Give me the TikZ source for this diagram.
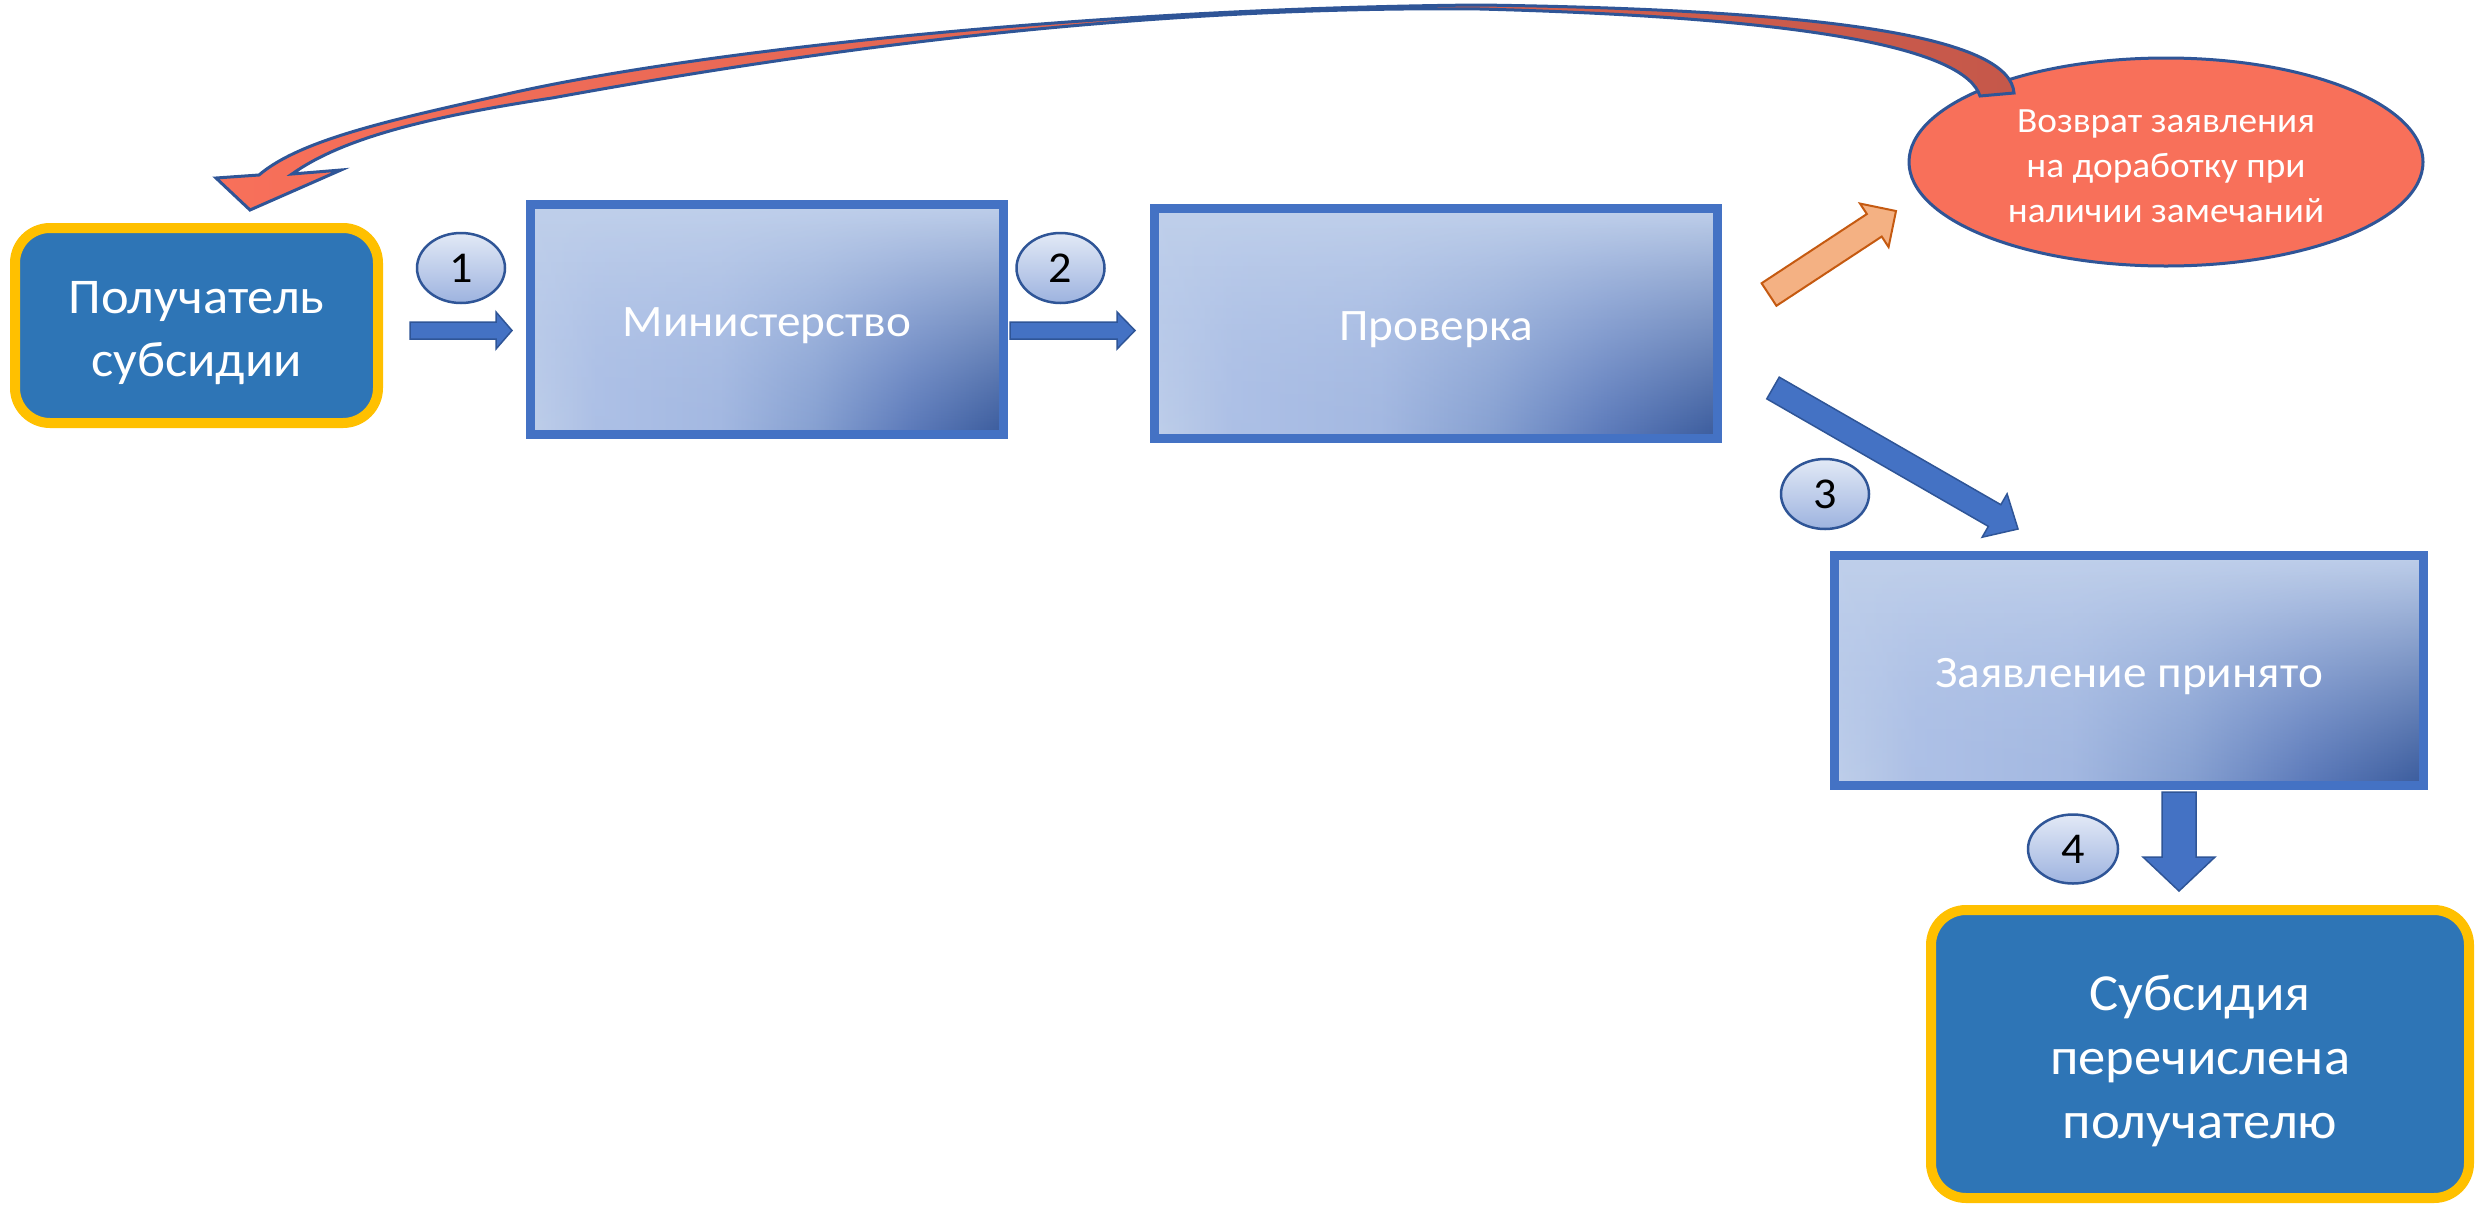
\documentclass[tikz,border=0pt]{standalone}
\usepackage{fontspec}
\setmainfont{Carlito}[FakeStretch=1.05]
\usetikzlibrary{calc,shapes.geometric,fadings}

\definecolor{gA}{HTML}{BFCFEA}
\definecolor{gB}{HTML}{ADC0E6}
\definecolor{gC}{HTML}{A3B8E1}
\definecolor{gD}{HTML}{86A0D1}
\definecolor{gF}{HTML}{5C7ABA}
\definecolor{gE}{HTML}{3A5B9C}
\definecolor{gTop}{HTML}{C0D0EB}
\definecolor{gMid}{HTML}{AABEE5}
\definecolor{boxBlue}{HTML}{4472C4}
\definecolor{darkBlue}{HTML}{2F5597}
\definecolor{solidBlue}{HTML}{2E75B6}
\definecolor{gold}{HTML}{FFC000}
\definecolor{salmon}{HTML}{F8705A}
\definecolor{brick}{HTML}{C5584A}
\definecolor{peach}{HTML}{F4B183}
\definecolor{rust}{HTML}{C55A11}
\definecolor{circTop}{HTML}{E2E9F6}
\definecolor{circBot}{HTML}{9DB3DF}

\pgfdeclarehorizontalshading{boxh}{100bp}{color(0bp)=(gA); color(25bp)=(gA); color(32bp)=(gB); color(45bp)=(gC); color(55bp)=(gD); color(65bp)=(gF); color(75bp)=(gE); color(100bp)=(gE)}
\tikzfading[name=topfade, top color=transparent!0, middle color=transparent!30, bottom color=transparent!100]

\tikzset{
  gradbox/.style={rectangle, inner sep=0pt, outer sep=0pt, shade, shading=boxh,
    path picture={\shade[top color=gTop, bottom color=gMid, path fading=topfade]
      (path picture bounding box.south west) rectangle (path picture bounding box.north east);}},
  gradborder/.style={draw=boxBlue, line width=9pt},
  solidbox/.style={rectangle, rounded corners=35pt, fill=solidBlue, draw=gold, line width=10pt,
    inner sep=0pt, outer sep=0pt},
  boxtext/.style={text=white, align=center, inner sep=0pt},
  numbadge/.style={ellipse, minimum width=88pt, minimum height=70pt, inner sep=0pt,
    top color=circTop, bottom color=circBot, draw=darkBlue, line width=2.5pt,
    font=\fontsize{44}{50}\selectfont, text=black},
  bluearrow/.style={fill=boxBlue, draw=darkBlue, line width=1.5pt, line join=miter},
  orangearrow/.style={fill=peach, draw=rust, line width=2pt, line join=miter},
}

% #1 style, #2 tail, #3 tip, #4 half shaft, #5 half head, #6 head length
\newcommand\blockarrow[6]{%
  \coordinate (bt) at #2;
  \coordinate (bp) at #3;
  \coordinate (bh) at ($(bp)!#6!(bt)$);
  \draw[#1] ($(bt)!#4!90:(bp)$) -- ($(bh)!#4!-90:(bt)$) -- ($(bh)!#5!-90:(bt)$) -- (bp)
    -- ($(bh)!#5!90:(bt)$) -- ($(bh)!#4!90:(bt)$) -- ($(bt)!#4!-90:(bp)$) -- cycle;
}

\begin{document}
\begin{tikzpicture}[x=1pt,y=-1pt]
\useasboundingbox (0,0) rectangle (2479,1205);
\fill[white] (0,0) rectangle (2479,1205);

% boxes
\node[solidbox, minimum width=363pt, minimum height=195pt] (recv) at (196.5,325.5) {};
\node[boxtext, font=\fontsize{50}{63}\selectfont] (recvtext) at ($(recv.center)+(0,8)$) {Получатель\\субсидии};

\node[gradbox, minimum width=473pt, minimum height=230pt] (min) at (767,319.5) {};
\draw[gradborder] (min.south west) rectangle (min.north east);
\node[boxtext, font=\fontsize{45}{54}\selectfont] (mintext) at ($(min.center)+(0,6)$) {Министерство};

\node[gradbox, minimum width=563pt, minimum height=230pt] (prov) at (1436,323.5) {};
\draw[gradborder] (prov.south west) rectangle (prov.north east);
\node[boxtext, font=\fontsize{45}{54}\selectfont] (provtext) at ($(prov.center)+(0,6)$) {Проверка};

\node[gradbox, minimum width=589pt, minimum height=230pt] (prin) at (2129,670.5) {};
\draw[gradborder] (prin.south west) rectangle (prin.north east);
\node[boxtext, font=\fontsize{45}{54}\selectfont] (printext) at ($(prin.center)+(0,6)$) {Заявление принято};

\node[solidbox, minimum width=538pt, minimum height=288pt] (subs) at (2200,1054) {};
\node[boxtext, font=\fontsize{52}{64}\selectfont] (substext) at ($(subs.center)+(0,7)$) {Субсидия\\перечислена\\получателю};

% return ellipse
\node[ellipse, fill=salmon, draw=darkBlue, line width=3pt, minimum width=514pt, minimum height=208pt,
  inner sep=0pt] (ret) at (2166,162) {};
\node[boxtext, font=\fontsize{35.5}{45}\selectfont] (rettext) at ($(ret.center)+(0,4)$)
  {Возврат заявления\\на доработку при\\наличии замечаний};

% number badges
\node[numbadge] (n1) at (461,268) {1};
\node[numbadge] (n2) at (1060.5,268) {2};
\node[numbadge] (n3) at (1825,494) {3};
\node[numbadge, minimum width=90pt, minimum height=69pt] (n4) at (2073,849) {4};

% block arrows
\blockarrow{bluearrow}{(410,330.5)}{(512,330.5)}{8.5pt}{18.5pt}{16pt}
\blockarrow{bluearrow}{(1010,330.5)}{(1135,330.5)}{8.5pt}{18.5pt}{18pt}
\blockarrow{bluearrow}{(1773,388)}{(2018,529)}{12.5pt}{25pt}{27pt}
\blockarrow{bluearrow}{(2179,792)}{(2179,891)}{17pt}{36pt}{34pt}
\blockarrow{orangearrow}{(1769,294.5)}{(1896,211)}{13.5pt}{26pt}{26pt}

% curved return arrow
\path[left color=salmon, right color=brick, draw=darkBlue, line width=3pt, line join=miter]
  (2014,93) .. controls (2010,40) and (1850,10) .. (1480,5)
  .. controls (1100,8) and (700,50) .. (507,94)
  .. controls (390,120) and (300,140) .. (259,175)
  -- (216,178) -- (250,210) -- (341,170) -- (292,174)
  .. controls (340,140) and (420,118) .. (552,98)
  .. controls (750,62) and (1100,5) .. (1480,9)
  .. controls (1820,18) and (1965,50) .. (1980,96)
  -- cycle;
\end{tikzpicture}
\end{document}
